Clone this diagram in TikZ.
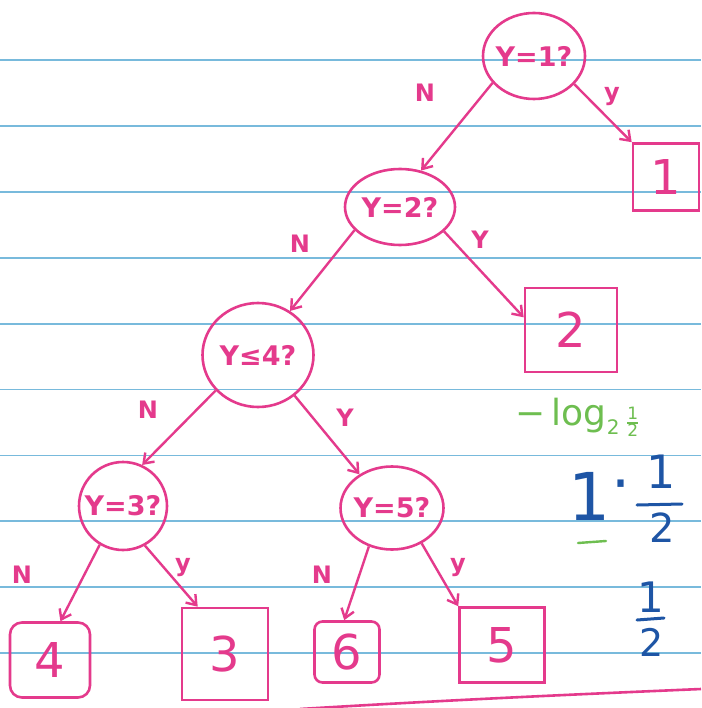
\documentclass[tikz,border=0pt]{standalone}
\usepackage{fontspec}
\setmainfont{DejaVu Sans}
\usetikzlibrary{shapes.geometric,arrows.meta}
\definecolor{ink}{RGB}{228,58,140}
\definecolor{paperline}{RGB}{120,186,220}
\definecolor{greenink}{RGB}{110,190,80}
\definecolor{blueink}{RGB}{30,85,165}
% question text that does not widen its ellipse
\newcommand\qtext[1]{\makebox[0pt]{#1}}
\begin{document}
\begin{tikzpicture}[x=1pt,y=-1pt,
  test/.style={draw=ink, line width=2.6pt, ellipse, inner sep=0pt, text=ink,
               font=\fontsize{27}{27}\selectfont\bfseries},
  leaf/.style={draw=ink, line width=2.6pt, rectangle, inner sep=0pt, text=ink,
               font=\fontsize{48}{48}\selectfont},
  branch/.style={draw=ink, line width=2.4pt, -{Straight Barb[length=9pt,width=13pt]}},
  answer/.style={text=ink, font=\fontsize{24}{24}\selectfont\bfseries, inner sep=0pt},
  calc/.style={text=blueink, inner sep=0pt},
  ruling/.style={draw=paperline, line width=1.8pt}]
\useasboundingbox[fill=white] (0,0) rectangle (701,708);

% ruled paper
\foreach \k in {0,...,9}
  \draw[ruling] (0,{60+65.9*\k}) -- (701,{60+65.9*\k});

% question nodes
\node[test, minimum width=102pt, minimum height=86pt] (n1) at (534,56) {\qtext{Y=1?}};
\node[test, minimum width=110pt, minimum height=76pt] (n2) at (400,207) {\qtext{Y=2?}};
\node[test, minimum width=111pt, minimum height=104pt] (n4) at (258,355) {\qtext{Y≤4?}};
\node[test, minimum width=88pt, minimum height=88pt] (n3) at (123,506) {\qtext{Y=3?}};
\node[test, minimum width=103pt, minimum height=83pt] (n5) at (392,508) {\qtext{Y=5?}};

% leaves
\node[leaf, minimum width=66pt, minimum height=67pt] (l1) at (666,177) {1};
\node[leaf, minimum width=92pt, minimum height=84pt] (l2) at (571,330) {2};
\node[leaf, minimum width=86pt, minimum height=92pt] (l3) at (225,654) {3};
\node[leaf, rounded corners=12pt, minimum width=80pt, minimum height=75pt] (l4) at (50,660) {4};
\node[leaf, minimum width=85pt, minimum height=75pt] (l5) at (502,645) {5};
\node[leaf, rounded corners=8pt, minimum width=65pt, minimum height=61pt] (l6) at (347,652) {6};

% branches
\draw[branch] (n1.213) -- (n2.60);
\draw[branch] (n1.325) -- (l1.north west);
\draw[branch] (n2.331) -- (l2.165);
\draw[branch] (n2.207) -- (n4.54);
\draw[branch] (n4.220) -- (n3.65);
\draw[branch] (n4.312) -- (n5.134);
\draw[branch] (n3.239) -- (l4.75);
\draw[branch] (n3.299) -- (l3.120);
\draw[branch] (n5.239) -- (l6.95);
\draw[branch] (n5.310) -- (l5.north west);

% branch answers
\node[answer] (a1) at (425,93) {N};
\node[answer] (a2) at (612,97) {y};
\node[answer] (a3) at (300,244) {N};
\node[answer] (a4) at (480,240) {Y};
\node[answer] (a5) at (148,410) {N};
\node[answer] (a6) at (345,418) {Y};
\node[answer] (a7) at (22,575) {N};
\node[answer] (a8) at (183,568) {y};
\node[answer] (a9) at (322,575) {N};
\node[answer] (a10) at (458,568) {y};

% underline across the bottom
\draw[ink, line width=2.6pt] (300,709) .. controls (450,700) and (560,695) .. (701,689);

% side calculation
\node[text=greenink, inner sep=0pt, font=\fontsize{36}{36}\selectfont] (m1) at (577,420)
  {−\hspace{6pt}log\raisebox{-9pt}{\fontsize{20}{20}\selectfont 2}\hspace{8pt}%
   \raisebox{-3pt}{\fontsize{17}{17}\selectfont\setlength{\arrayrulewidth}{1.8pt}%
   \begin{tabular}{@{}c@{}}1\\[-3pt]\hline 2\end{tabular}}};
\draw[greenink, line width=2.4pt, line cap=round] (578,543) -- (606,541);

\node[calc, font=\fontsize{66}{66}\selectfont] (m2) at (589,496) {1};
\node[calc, font=\fontsize{60}{60}\selectfont] (m3) at (621,492) {·};
\node[calc, font=\fontsize{46}{46}\selectfont] (m4a) at (661,472) {1};
\node[calc, font=\fontsize{40}{40}\selectfont] (m4b) at (662,528) {2};
\draw[blueink, line width=3pt, line cap=round] (637,505) -- (682,504);

\node[calc, font=\fontsize{42}{42}\selectfont] (m5a) at (651,597) {1};
\node[calc, font=\fontsize{38}{38}\selectfont] (m5b) at (652,642) {2};
\draw[blueink, line width=3pt, line cap=round] (637,620) -- (664,618);
\end{tikzpicture}
\end{document}
